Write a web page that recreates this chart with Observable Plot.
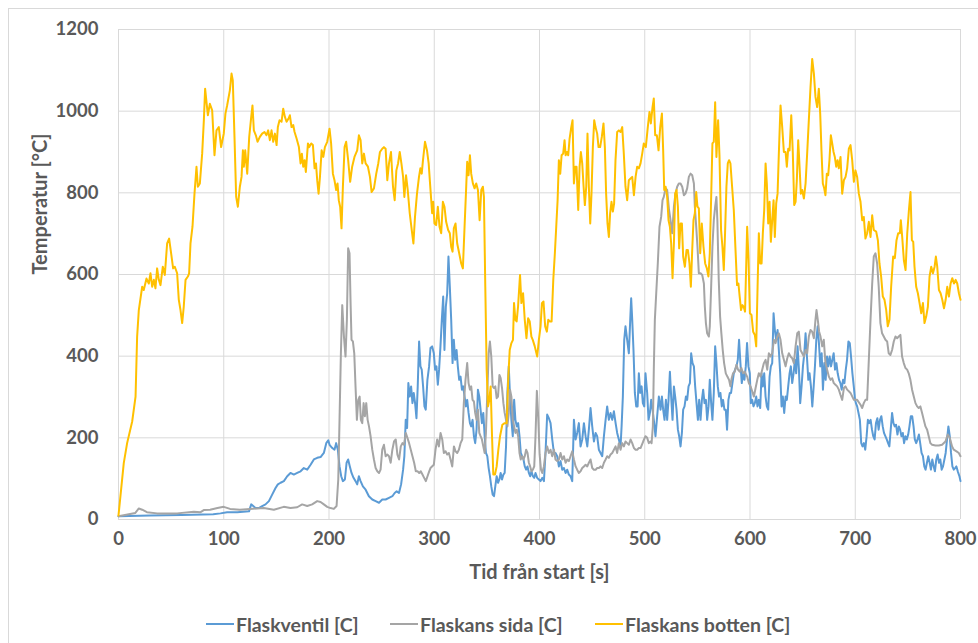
<!DOCTYPE html>
<html>
<head>
<meta charset="utf-8">
<script src="https://cdn.jsdelivr.net/npm/d3@7"></script>
<script src="https://cdn.jsdelivr.net/npm/@observablehq/plot@0.6"></script>
<style>
  html, body { margin: 0; padding: 0; background: #fff; overflow: hidden; }
  #wrap { position: relative; width: 978px; height: 643px; font-family: Lato, "Open Sans", sans-serif; }
  #frame { position: absolute; left: 8px; top: 8px; width: 1000px; height: 700px; border: 1px solid #d9d9d9; box-sizing: border-box; pointer-events: none; }
  #chart { position: absolute; left: 0; top: 0; }
  #legend { position: absolute; left: 0; top: 605px; width: 978px; height: 38px; }
  .item { position: absolute; top: 0; height: 38px; display: flex; align-items: center; font-weight: bold; font-size: 19.5px; color: #595959; white-space: nowrap; }
  .swatch { display: inline-block; width: 28px; height: 2px; margin-right: 2px; }
</style>
</head>
<body>
<div id="wrap">
  <div id="frame"></div>
  <div id="chart"></div>
  <div id="legend"></div>
</div>
<script>
// ---- axis ticks ----
const xTicks = [0, 100, 200, 300, 400, 500, 600, 700, 800];
const yTicks = [0, 200, 400, 600, 800, 1000, 1200];

// ---- series names / colors ----
const seriesNames = ["Flaskventil [C]", "Flaskans sida [C]", "Flaskans botten [C]"];
const seriesColors = ["#5b9bd5", "#a5a5a5", "#ffc000"];

// ---- Flaskventil [C] ----
const ventilT = [0,30,60,90,96.9,103.2,112.8,124,126.1,128,130.2,133.3,136.5,139.7,142.9,146,149.2,151.4,154,157.1,160.3,163.4,166.6,169.8,173,176.1,179.3,182.5,185.6,188.8,192,195.1,197.4,
199.3,200.5,203.1,205.2,206.8,208.4,210,211.6,213.2,215.1,216.7,218.2,219.8,221.4,223.3,225.2,226.8,228.4,230,232.2,234.8,237.9,241.1,244.3,247.5,250.6,253.8,257,260.2,262.4,264.3,266.5,268.5,270.4,271.6,272.9,274.2,275.4,276.7,278,279.3,280.5,281.8,283.1,284.3,285.6,286.9,288.1,289.4,290.7,291.9,293.5,295.1,
296.4,298,299.6,300.8,302.1,303.4,304.6,305.9,307.2,308.5,309.7,311,312.3,313.5,314.8,316.1,317.4,318.6,319.9,321.2,322.4,323.7,325,326.3,327.5,328.8,330.1,331.3,332.6,333.9,335.1,336.4,337.7,338.9,340.2,341.5,342.8,344,345.3,346.6,347.9,349.1,350.4,351.7,352.9,354.2,355.5,356.8,358,359.3,360.6,361.9,363.1,364.4,365.7,366.9,368.2,369.5,370.8,372,373.3,374.6,375.9,377.1,378.4,379.7,381,382.2,383.5,384.8,386,387.3,388.6,389.9,391.1,392.4,393.7,395,
396.2,397.8,399.4,401,402.6,404.2,405.7,407.3,408.9,410.5,412.1,413.7,415.2,416.8,418.4,420,421.6,423.2,424.8,426.3,427.9,429.5,431.1,432.7,434.3,435.8,437.4,439,440.6,442.2,443.8,445.4,446.9,448.5,450.1,451.7,453.3,454.8,456.4,458,459.6,461.2,462.8,464.3,465.9,467.5,469.1,470.7,472.3,473.8,475.4,477,478,479.2,480.5,481.7,483.3,484.9,486.2,487.1,488.1,489.3,490.6,491.9,493.2,494.4,495.7,
497,498.2,499.5,500.7,502.3,503.6,504.9,506.1,507.4,508.6,510.2,511.8,513.4,515,516.3,517.5,518.8,520.1,521.3,522.6,523.9,525.1,526.4,527.7,528.9,530.2,531.5,532.7,534,535.3,536.5,537.8,539.1,540.3,541.6,542.9,544.1,545.4,546.7,547.9,549.2,550.5,551.7,553,554.3,555.5,556.8,558.1,559.3,560.6,561.8,563.1,564.3,565.6,566.9,568.1,569.4,570.6,571.9,573.2,574.4,575.7,577,578.2,579.5,580.8,582,583.3,584.6,585.8,587.1,588.4,589.6,590.9,592.2,593.4,594.7,
596,597.2,598.5,599.8,600.8,602.1,603.3,604.6,605.9,607.1,608.4,609.7,611,612.2,613.5,614.8,616,617.3,618.6,619.8,621.1,622.4,623.6,624.9,626.2,627.4,628.7,630,631.2,632.5,633.8,635,636.3,637.6,638.8,640.1,641.4,642.7,643.9,645.2,646.5,647.7,649,650.3,651.6,652.8,654.1,655.4,656.6,657.9,659.2,660.5,661.7,663,664.3,665.5,666.8,668.1,669.3,670.6,671.9,673.2,674.4,675.7,677,678.2,679.5,680.8,682.1,683.3,684.6,685.9,687.1,688.4,689.7,691,692.2,693.5,694.8,
696,697.3,698.6,699.8,700.6,701.8,703.1,704.4,705.7,706.9,708.2,709.5,710.8,712,713.3,714.6,715.9,717.1,718.4,719.7,721,722.2,723.5,724.8,726.1,727.3,728.6,729.9,731.2,732.4,733.7,735,736.3,737.5,738.8,740.1,741.4,742.6,743.9,745.2,746.4,747.7,749,750.3,751.5,752.8,754.1,755.4,756.6,757.9,759.2,760.5,761.7,763,764.3,765.6,766.8,768.1,769.4,770.7,771.9,773.2,774.5,775.7,777,778.3,779.6,780.8,782.1,783.4,784.7,785.9,787.2,788.5,789.8,791,792.3,793.6,794.9,796.1,797.4,799,800];
const ventilV = [8,10,11,13,15,18,18,20,37,33,28,28,33,37,45,61,77,86,90,94,106,114,110,114,118,126,122,134,147,151,153,163,187,
194,183,175,171,187,171,130,106,94,98,139,147,130,114,102,94,86,106,94,81,73,57,49,45,41,49,49,53,57,65,69,65,86,122,155,244,224,334,301,326,285,310,285,248,326,436,375,367,326,277,269,342,375,
420,424,407,367,375,330,367,424,489,546,415,521,554,644,570,489,383,440,391,415,375,342,350,318,326,301,277,293,261,236,228,244,204,187,220,318,301,269,236,261,204,163,155,126,106,81,61,57,81,106,90,98,114,98,110,114,179,310,375,301,244,204,293,244,228,236,204,163,155,147,130,122,130,114,106,118,106,102,
114,102,98,94,102,94,163,257,248,236,196,163,163,155,130,143,122,126,114,122,110,106,94,244,196,212,236,179,196,236,204,179,220,273,228,191,212,204,171,163,155,204,244,277,244,261,244,265,236,212,196,179,228,301,440,473,440,407,489,542,489,415,310,277,277,358,310,
326,285,277,358,310,244,261,293,269,244,204,253,301,269,301,269,244,293,244,293,362,301,244,326,301,269,220,204,179,212,269,277,301,293,326,334,407,383,375,326,285,244,293,244,293,318,285,293,244,277,342,285,244,310,424,383,326,301,310,277,293,269,269,220,293,310,310,334,358,367,375,391,440,383,334,358,342,
375,432,375,358,285,293,277,285,301,277,293,273,358,326,358,301,277,269,350,375,383,505,464,440,464,415,358,277,301,261,301,293,326,358,375,334,358,391,358,424,367,285,326,375,407,456,399,342,358,326,277,326,375,440,473,432,375,407,318,383,342,399,375,399,375,391,407,367,383,358,342,334,318,342,334,367,391,436,432,
399,358,326,293,285,277,261,244,187,179,187,171,204,244,236,244,220,204,196,236,248,220,244,253,228,212,204,196,187,179,220,261,236,228,232,208,228,220,204,212,187,204,196,208,228,253,253,228,196,187,196,208,187,163,155,130,122,139,155,139,122,147,130,118,147,159,139,147,122,130,147,163,196,228,204,163,130,122,126,130,118,106,94];

// ---- Flaskans sida [C] ----
const sidaT = [0,16,19.3,22.5,27,36.7,55.7,71.6,78,81,87,94,100,106,115.3,125,138,147.6,157,163.4,169.8,174.5,179.3,184,188.8,192,195.1,
198.3,201.4,204.6,207.2,208.8,210,211.3,212.6,214.2,215.7,217,218.2,219.5,220.5,221.4,222.7,224,225.2,226.5,227.8,229.1,230.3,231.6,232.9,234.1,235.4,236.7,238,239.5,241.1,242.7,244.3,245.9,247.5,249,250.6,252.2,253.8,255.4,257,258.6,260.2,261.8,263.4,265,266.6,268.2,269.8,271.3,272.9,274.5,276.1,277.7,279.3,280.9,282.5,284.1,285.7,287.2,288.8,290.4,292,293.6,295.2,
296.4,299.6,301.2,302.8,304.4,306,307.6,309.1,310.7,312.3,313.9,315.5,317.1,318.7,320.2,321.8,323.4,325,326.6,328.1,329.7,331.3,332.6,333.9,335.1,336.4,337.7,338.9,340.2,341.5,342.8,344,345.3,346.6,347.9,349.1,350.4,351.7,352.9,354.2,355.5,356.8,358,359.3,360.6,361.9,363.1,364.4,365.7,366.9,368.2,369.5,370.8,372,373.3,374.6,375.9,377.1,378.4,379.7,381,382.2,383.5,384.8,386,387.3,388.6,389.9,391.1,392.4,393.7,395,
396.2,397.5,398.8,400.1,401.4,402.6,404.2,405.7,407.3,408.9,410.5,412.1,413.7,415.2,416.8,418.4,420,421.6,423.2,424.8,426.3,427.9,429.5,431.1,432.7,434.3,435.8,437.4,439,440.6,442.2,443.8,445.4,446.9,448.5,450.1,451.7,453.3,454.8,456.4,458,459.6,461.2,462.8,464.3,465.9,467.5,469.1,470.7,472.3,473.8,475.4,477,478.6,480.2,481.7,483.3,484.9,486.5,488.1,489.7,491.3,492.8,494.4,496,
498.5,500.7,502.3,503.9,505.5,506.5,507.7,508.6,509.6,510.9,512.4,514,515.6,516.9,518.1,519.7,521.3,522.9,524.5,526.1,527.7,529.2,530.8,532.4,534,535.6,537.2,538.7,540.3,541.9,543.5,545.1,546.7,547.6,548.9,550.1,551.4,553,554.6,556.2,557.1,558.1,559.3,560.9,561.8,563.1,564.3,565.6,566.9,568.1,569,570.3,571.6,572.8,574.1,575.4,577,578.5,580.1,581.4,582.6,583.9,585.5,587.1,588.6,590.2,591.8,593.4,595,
597.3,598.9,600.5,602.1,603.7,605.3,606.9,608.4,610,611.6,613.2,614.8,616.4,617.9,619.5,621.1,622.7,624.3,625.9,627.4,629,630.6,632.2,633.8,635.4,636.9,638.5,640.1,641.7,643.3,644.9,646.4,648,649.6,651.2,652.8,654.3,655.9,657.5,659.1,660.7,662.2,663.2,664.4,665.7,667,668.6,670.1,671.7,673.3,674.9,676.5,678.1,679.6,681.2,682.8,684.4,686,687.6,689.2,690.7,692.3,693.9,
695.5,698.7,701.8,705,706.6,708.1,709.7,711.3,712.9,714.5,716.1,717.6,719.2,720.8,722.3,723.9,725.5,727.1,728.7,730.3,731.8,733.4,735,736.6,738.2,739.8,741.3,742.9,744.5,746.1,747.7,749.3,750.8,752.4,754,755.6,757.2,758.8,760.3,761.9,763.5,765.1,766.7,768.3,769.8,771.4,773,776.2,779.4,782.5,785.7,787.9,789.8,792,793.6,796.2,798.4,800];
const sidaV = [8,16,27,24,18,15,15,19,18,23,24,28,31,26,24,26,28,24,31,28,30,37,33,37,45,43,37,
31,28,26,33,98,244,407,525,448,399,489,664,652,530,440,436,407,326,244,293,301,244,236,285,253,285,244,228,204,171,147,126,118,114,122,171,183,155,159,155,139,171,191,196,159,147,179,187,183,212,200,187,171,155,139,118,118,114,118,110,102,94,106,118,
126,134,171,196,179,212,196,163,167,159,163,147,130,179,167,163,171,187,196,285,342,383,334,318,326,293,289,261,244,269,212,204,196,179,163,212,310,407,436,399,326,322,326,297,301,354,346,322,285,261,244,228,261,318,301,244,228,212,220,204,163,147,155,147,155,171,163,139,130,118,122,130,
204,315,250,160,122,114,130,163,179,163,171,155,171,147,143,147,163,147,155,139,147,143,155,167,147,130,122,114,118,126,130,134,130,139,147,126,122,122,126,126,130,126,139,147,155,151,159,163,171,179,163,187,171,187,179,191,187,183,196,187,175,171,171,175,175,
191,204,200,187,191,187,228,367,489,554,627,717,741,782,790,811,807,762,733,701,766,798,815,823,823,815,794,798,811,839,847,843,823,766,717,668,603,603,599,578,521,481,456,448,473,570,668,733,766,790,733,587,497,456,415,383,358,350,342,326,346,358,362,379,367,362,371,358,362,
350,334,326,314,301,322,342,358,350,367,383,391,367,407,399,407,440,432,448,456,440,407,391,375,395,407,399,395,383,424,456,460,415,407,399,415,407,448,464,460,444,489,513,489,460,448,424,440,383,367,350,342,346,334,330,326,318,305,293,322,326,318,314,
310,293,293,281,273,285,293,293,391,489,578,644,652,627,570,481,456,448,440,436,407,403,415,436,448,444,448,452,399,383,371,367,358,342,318,301,285,277,273,277,261,244,228,220,204,187,183,181,181,183,191,208,200,179,171,167,163,155];

// ---- Flaskans botten [C] ----
const bottenT = [0,5,8.2,13,16.2,17.7,19.3,22.5,24,26.6,28.8,30.4,32,33.6,35.1,36.7,38.3,39.9,42.1,44,46.2,48.1,50,51.9,53.5,55.7,57.3,58.9,60.5,62,63.7,65.9,67.1,68.4,70.3,72.2,74.1,75.4,77.3,79.5,81.1,82.3,84.9,86.8,89,91.2,93.1,95.3,
97.5,100,101.6,103.2,105.8,107.4,108.6,110.2,111.8,113.4,115.3,116.9,118.2,119.1,120.4,122.3,124.2,126.1,127.3,128.6,130.5,132.1,134.3,136.5,138.7,140.6,142.2,143.8,145.4,147,148.6,150.2,151.4,153,154.9,156.5,158.1,159.7,161.6,162.8,164.4,166,167.3,169.2,171.4,173,174.2,175.5,176.8,178,180,181.2,183.1,184.7,186.3,187.6,188.8,190.1,191.4,193,194.6,196.1,
198.3,200.5,202,203.7,205.2,206.8,208.1,209.3,210.6,211.9,213.2,214.8,216.3,218.2,220.1,222,224.2,226.8,228.4,230,231.6,233.2,234.8,237,238.9,240.5,242.7,244.9,246.8,248.4,250.6,252.2,253.8,255.4,257,258.9,260.8,262.4,264,265.6,267.2,268.8,270.4,271.6,273.2,274.8,276.7,278.6,280.2,281.7,283.6,285.5,286.8,288.1,289.3,291.2,293.1,294.7,296,
298,299,300.2,301.8,303.4,305,306.6,308.2,309.7,311.3,313.2,314.8,316.1,317.4,318.6,320.2,321.8,323.7,325.6,327.2,328.8,330.1,331.3,332.6,333.9,335.1,336.7,338.3,339.9,341.5,343.1,344.7,346.2,347.2,348.5,349.8,351.1,352.3,353.6,354.9,356.1,357.7,359.3,360.9,362.5,364.7,366.9,368.8,370.4,371.7,373.3,374.8,375.8,377.1,378.3,379.6,381.5,382.8,384.4,386,387.6,389.2,390.7,392.3,393.6,395.5,
397.8,399.4,401,402.3,403.8,405.4,407,408.3,409.9,411.5,413.1,414.6,415.9,417.2,418.4,419.7,421,422.5,423.8,424.8,426.1,427.3,428.6,430.2,431.4,432.7,434,435.2,436.8,438.1,439.3,440.6,441.9,443.1,444.4,445.6,446.9,448.2,449.4,450.7,452,453.2,454.8,456.1,457.6,459.2,460.8,462.1,463.3,464.6,465.9,467.1,468.4,469.7,470.9,472.2,473.8,475.4,477,478.6,480.1,481.7,483.3,484.9,486.5,488.1,489.7,491.3,492.8,494.4,496,
497.6,499.1,501,502.9,504.5,505.8,507.4,508.6,509.9,511.5,513.1,514.7,516.3,517.5,518.5,519.8,521.3,522.6,523.9,525.1,526.4,527.7,528.9,530.2,531.5,532.7,534,535.3,536.5,538.1,539.7,541,542.5,543.8,545.1,546.3,547.6,548.9,550.1,551.4,552.7,554.2,555.8,557.4,559,560.5,561.8,563.1,564.3,565.6,566.9,568.1,569.7,571,572.5,573.8,575.1,576.3,577.6,578.9,580.1,581.4,583,584.6,586.1,587.7,589,590.2,591.5,592.8,594,595.3,
597.3,598.6,599.9,601.4,603,604.6,605.9,607.2,608.4,609.7,611,612.2,613.5,614.8,616,617.3,618.6,619.8,621.1,622.4,623.6,624.9,626.2,627.4,629,630.6,632.2,633.8,635,636.3,637.6,639.2,640.7,642,643.3,644.5,645.8,647.1,648.3,649.6,651.2,652.8,654.3,655.9,657.5,659.1,660.7,662.2,663.8,665.4,666.7,667.9,669.2,670.5,671.7,673,674.3,675.5,676.8,678.1,679.4,680.6,681.9,683.2,684.4,686,687.6,689.2,690.8,692.3,693.9,
695.5,697.1,698.7,700.2,701.8,703.4,705,706.6,708.1,709.7,711.3,712.9,714.5,716.1,717.6,719.9,721.5,723,724.6,726.2,727.8,729.4,730.9,732.5,734.1,736,737.6,739.2,740.8,742.4,743.3,744.6,746.2,747.8,749.4,751,752.5,753.8,755.1,756.3,757.9,759.5,761.1,762.7,764.3,765.8,767.4,769,770.6,772.2,773.8,775.4,776.6,777.9,779.5,781.1,782.7,784.3,785.9,787.4,789,790.6,792.2,793.8,795.4,796.9,798.5,800];
const bottenV = [10,138,187,240,301,448,513,570,562,590,578,603,570,587,566,615,587,574,619,599,676,688,652,615,619,603,538,513,481,521,587,595,603,676,717,798,864,815,823,896,978,1055,990,1018,1002,892,953,961,
912,945,994,1014,1051,1092,1075,937,790,766,815,839,904,864,904,847,937,986,1014,953,941,925,937,945,949,941,953,929,953,925,945,917,961,978,974,1006,986,974,982,990,961,966,949,933,912,872,896,864,880,851,921,912,921,917,860,872,831,798,839,904,888,912,
925,957,921,847,831,807,823,782,766,713,815,912,925,880,827,864,888,904,941,929,872,896,872,864,839,802,811,847,872,900,908,912,908,831,872,900,815,782,855,872,900,872,839,790,843,807,750,709,676,741,798,839,860,847,880,925,904,872,823,
750,778,725,721,766,717,701,778,766,729,709,701,668,656,713,725,676,652,627,615,717,798,876,843,892,847,823,811,823,807,733,807,815,790,570,367,277,293,326,204,110,110,130,171,204,232,236,236,350,415,432,440,530,489,485,521,599,530,554,489,444,493,485,448,440,424,
399,440,473,530,534,473,460,489,485,485,587,652,717,782,880,847,892,896,929,892,900,892,933,961,978,823,864,864,758,864,900,872,815,770,815,945,815,725,798,912,978,961,945,912,912,937,970,912,798,725,692,750,778,754,774,880,949,953,949,961,896,815,782,831,835,839,794,839,864,860,872,
896,921,912,961,998,970,1010,1031,941,941,904,961,994,904,807,815,790,733,717,676,591,676,798,807,766,664,725,725,644,619,660,660,627,570,660,733,750,802,766,762,652,725,668,627,615,595,652,790,921,925,1022,888,978,892,709,668,611,701,815,872,880,872,815,758,668,574,578,546,513,525,521,509,
717,635,505,501,460,452,424,570,701,627,627,701,758,872,823,725,778,680,733,782,692,774,798,896,1014,961,900,900,864,908,904,990,896,770,778,831,929,864,798,807,786,823,896,978,1059,1128,1092,1035,1010,1055,994,904,823,811,794,847,843,880,941,921,900,888,864,880,860,888,798,831,839,860,908,
917,880,827,855,839,798,778,733,741,688,701,729,692,745,709,705,684,627,595,546,538,513,473,489,570,644,640,684,701,701,733,692,635,611,701,758,802,684,680,619,570,554,530,505,530,481,497,521,595,619,603,619,644,619,562,554,538,517,538,570,546,578,591,578,587,578,554,538];

// ---- build data ----
const seriesT = [ventilT, sidaT, bottenT];
const seriesV = [ventilV, sidaV, bottenV];
const data = [];
seriesNames.forEach((name, i) => {
  seriesT[i].forEach((t, j) => data.push({series: name, t, v: seriesV[i][j]}));
});

const fontFam = "Lato, 'Open Sans', sans-serif";

const chart = Plot.plot({
  width: 978,
  height: 605,
  marginLeft: 118,
  marginRight: 18,
  marginTop: 29,
  marginBottom: 86,
  style: {fontFamily: fontFam, fontSize: "18.5px", fontWeight: "bold", color: "#595959", background: "transparent"},
  x: {domain: [0, 800]},
  y: {domain: [0, 1200]},
  color: {domain: seriesNames, range: seriesColors},
  marks: [
    Plot.gridX(xTicks, {stroke: "#d9d9d9", strokeOpacity: 1, strokeWidth: 1}),
    Plot.gridY(yTicks, {stroke: "#d9d9d9", strokeOpacity: 1, strokeWidth: 1}),
    Plot.axisX(xTicks, {tickSize: 0, tickPadding: 12, label: null, fill: "#595959", tickFormat: d3.format("d")}),
    Plot.axisY(yTicks, {tickSize: 0, tickPadding: 20, label: null, fill: "#595959", tickFormat: d3.format("d")}),
    Plot.text(["Tid från start [s]"], {text: d => d, frameAnchor: "bottom", dy: 59, fill: "#595959", fontSize: 20, fontWeight: "bold"}),
    Plot.text(["Temperatur [°C]"], {text: d => d, frameAnchor: "left", dx: -78, rotate: -90, fill: "#595959", fontSize: 20, fontWeight: "bold"}),
    Plot.line(data, {x: "t", y: "v", z: "series", stroke: "series", strokeWidth: 2, strokeLinejoin: "round", strokeLinecap: "round", curve: "linear"})
  ]
});
document.getElementById("chart").appendChild(chart);

// ---- legend ----
const legendX = [206, 390, 595];
const legend = document.getElementById("legend");
seriesNames.forEach((name, i) => {
  const item = document.createElement("div");
  item.className = "item";
  item.style.left = legendX[i] + "px";
  const sw = document.createElement("span");
  sw.className = "swatch";
  sw.style.background = seriesColors[i];
  item.appendChild(sw);
  item.appendChild(document.createTextNode(name));
  legend.appendChild(item);
});
</script>
</body>
</html>
